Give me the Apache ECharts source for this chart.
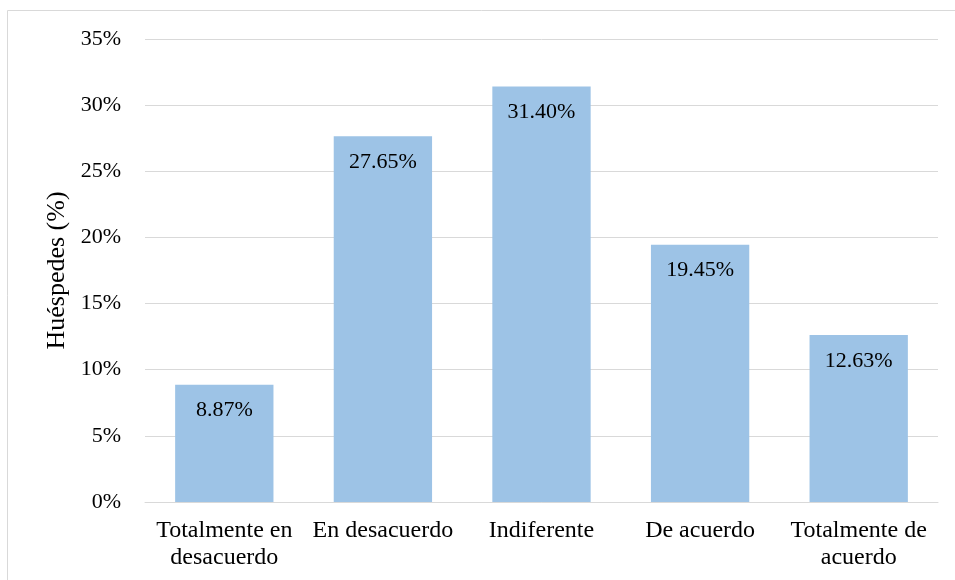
<!DOCTYPE html>
<html>
<head>
<meta charset="utf-8">
<script src="https://cdn.jsdelivr.net/npm/echarts@6/dist/echarts.min.js"></script>
<style>
  html, body { margin: 0; padding: 0; background: #fff; }
  #chart { width: 955px; height: 580px; }
</style>
</head>
<body>
<div id="chart"></div>
<script>
// Survey responses: share of guests per answer
const categories = ['Totalmente en\ndesacuerdo', 'En desacuerdo', 'Indiferente', 'De acuerdo', 'Totalmente de\nacuerdo'];
const values = [8.87, 27.65, 31.40, 19.45, 12.63];
const yTicks = [0, 5, 10, 15, 20, 25, 30, 35];

const font = 'Liberation Serif, Times New Roman, serif';
const chart = echarts.init(document.getElementById('chart'));

chart.setOption({
  animation: false,
  graphic: [{
    type: 'rect',
    shape: { x: 7.5, y: 10.5, width: 960, height: 580 },
    style: { fill: 'none', stroke: '#d9d9d9', lineWidth: 1 }
  }],
  grid: { left: 145, right: 17, top: 39, bottom: 78 },
  xAxis: {
    type: 'category',
    data: categories,
    axisLine: { lineStyle: { color: '#d9d9d9', width: 1 } },
    axisTick: { show: false },
    axisLabel: { color: '#000', fontFamily: font, fontSize: 24, lineHeight: 27, margin: 15, interval: 0 }
  },
  yAxis: {
    type: 'value',
    min: yTicks[0],
    max: yTicks[yTicks.length - 1],
    interval: 5,
    name: 'Huéspedes (%)',
    nameLocation: 'middle',
    nameGap: 74,
    nameRotate: 90,
    nameTextStyle: { color: '#000', fontFamily: font, fontSize: 26 },
    axisLine: { show: false },
    axisTick: { show: false },
    splitLine: { lineStyle: { color: '#d9d9d9', width: 1 } },
    axisLabel: { color: '#000', fontFamily: font, fontSize: 22, margin: 24, formatter: v => v + '%' }
  },
  series: [{
    type: 'bar',
    data: values,
    barWidth: '62%',
    itemStyle: { color: '#9dc3e6' },
    label: {
      show: true,
      position: 'insideTop',
      distance: 15,
      color: '#000',
      fontFamily: font,
      fontSize: 22,
      formatter: p => p.value.toFixed(2) + '%'
    }
  }]
});
</script>
</body>
</html>
